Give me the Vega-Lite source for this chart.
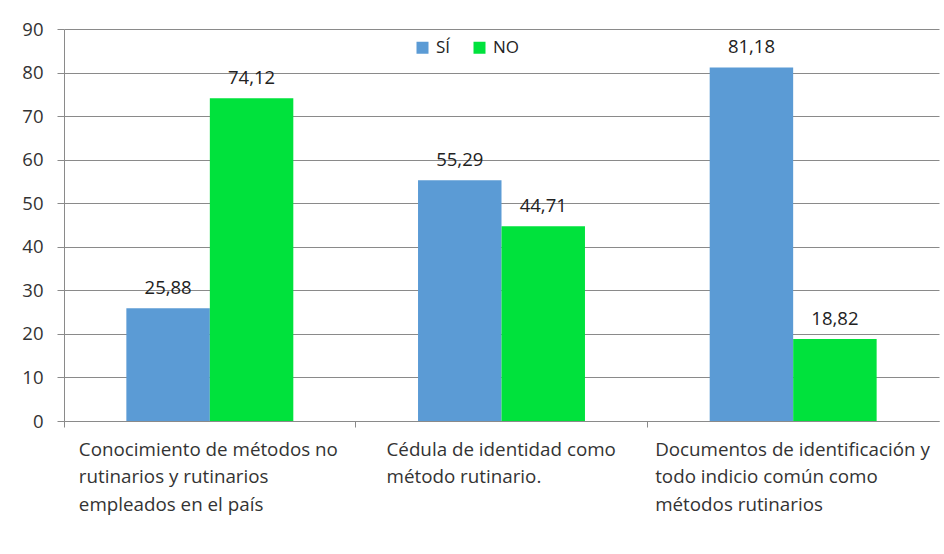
{
  "$schema": "https://vega.github.io/schema/vega-lite/v6.json",
  "width": 875,
  "height": 392,
  "autosize": {"type": "none"},
  "padding": {"left": 64, "top": 29, "right": 5, "bottom": 133},
  "background": "white",
  "config": {
    "view": {"stroke": null},
    "font": "Open Sans",
    "locale": {"number": {"decimal": ",", "thousands": ".", "grouping": [3], "currency": ["", " €"]}}
  },
  "data": {
    "values": [
      {"categoria": "Conocimiento de métodos no rutinarios y rutinarios empleados en el país", "respuesta": "SÍ", "valor": 25.88},
      {"categoria": "Conocimiento de métodos no rutinarios y rutinarios empleados en el país", "respuesta": "NO", "valor": 74.12},
      {"categoria": "Cédula de identidad como método rutinario.", "respuesta": "SÍ", "valor": 55.29},
      {"categoria": "Cédula de identidad como método rutinario.", "respuesta": "NO", "valor": 44.71},
      {"categoria": "Documentos de identificación y todo indicio común como métodos rutinarios", "respuesta": "SÍ", "valor": 81.18},
      {"categoria": "Documentos de identificación y todo indicio común como métodos rutinarios", "respuesta": "NO", "valor": 18.82}
    ]
  },
  "encoding": {
    "x": {
      "field": "categoria",
      "type": "nominal",
      "sort": null,
      "scale": {"paddingInner": 0, "paddingOuter": 0},
      "axis": {
        "title": null,
        "bandPosition": 0,
        "grid": false,
        "domainColor": "#8a8a8a",
        "tickColor": "#8a8a8a",
        "tickSize": 6,
        "labelAngle": 0,
        "labelAlign": "left",
        "labelBaseline": "top",
        "labelFont": "Open Sans",
        "labelFontSize": 18.8,
        "labelLineHeight": 27.5,
        "labelPadding": 13,
        "labelLimit": 0,
        "labelFlush": false,
        "labelOverlap": false,
        "labelColor": "#333333",
        "labelOffset": {"expr": "indexof(datum.value, 'Conoc') == 0 ? -131 : indexof(datum.value, 'Cédula') == 0 ? -115 : -138"},
        "labelExpr": "indexof(datum.value, 'Conoc') == 0 ? ['Conocimiento de métodos no', 'rutinarios y rutinarios', 'empleados en el país'] : indexof(datum.value, 'Cédula') == 0 ? ['Cédula de identidad como', 'método rutinario.'] : ['Documentos de identificación y', 'todo indicio común como', 'métodos rutinarios']"
      }
    },
    "xOffset": {
      "field": "respuesta",
      "type": "nominal",
      "sort": ["SÍ", "NO"],
      "scale": {"paddingInner": 0, "paddingOuter": 0.747}
    },
    "y": {
      "field": "valor",
      "type": "quantitative",
      "scale": {"domain": [0, 90], "nice": false},
      "axis": {
        "title": null,
        "values": [0, 10, 20, 30, 40, 50, 60, 70, 80, 90],
        "grid": true,
        "gridColor": "#8a8a8a",
        "gridWidth": 1,
        "domainColor": "#8a8a8a",
        "tickColor": "#8a8a8a",
        "tickSize": 7,
        "labelFont": "Open Sans",
        "labelFontSize": 18.5,
        "labelPadding": 14,
        "labelColor": "#333333"
      }
    }
  },
  "layer": [
    {
      "mark": {"type": "bar"},
      "encoding": {
        "color": {
          "field": "respuesta",
          "type": "nominal",
          "scale": {"domain": ["SÍ", "NO"], "range": ["#5B9BD5", "#00E23C"]},
          "legend": {
            "title": null,
            "orient": "none",
            "legendX": 350,
            "legendY": 10,
            "direction": "horizontal",
            "symbolType": "square",
            "symbolSize": 144,
            "symbolStrokeWidth": 0,
            "labelFont": "Open Sans",
            "labelFontSize": 17,
            "labelOffset": 5,
            "columnPadding": 20,
            "labelColor": "#222222"
          }
        }
      }
    },
    {
      "mark": {"type": "text", "baseline": "alphabetic", "dy": -14, "font": "Open Sans", "fontSize": 18.5, "color": "#222222"},
      "encoding": {
        "text": {"field": "valor", "type": "quantitative", "format": ".2f"}
      }
    }
  ]
}
